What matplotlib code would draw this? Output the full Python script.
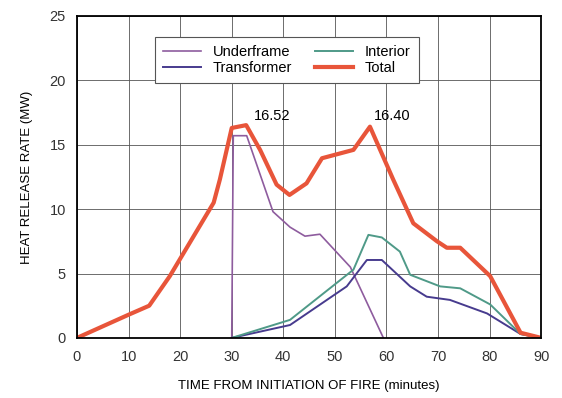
import matplotlib.pyplot as plt

plt.rcParams.update({'font.family': ['Liberation Sans', 'DejaVu Sans'], 'font.size': 10})

# time (minutes) and heat release rate (MW)
total_t = [0, 10, 14, 18, 26.5, 27.7, 30, 32.8, 35.5, 38.7, 41.2, 44.5, 47.5, 53.6, 56.8, 61.3, 65.2, 69.8, 71.7, 74.3, 80.1, 86, 90]
total_v = [0, 1.8, 2.5, 4.8, 10.5, 12.3, 16.3, 16.52, 14.6, 11.9, 11.1, 12.0, 13.95, 14.6, 16.40, 12.3, 8.9, 7.5, 7.0, 7.0, 4.8, 0.4, 0]

under_t = [30, 30.3, 32.9, 38, 41.3, 44.2, 47.1, 53, 59.4]
under_v = [0, 15.7, 15.7, 9.8, 8.6, 7.9, 8.05, 5.5, 0]

inter_t = [30, 41.3, 53.6, 56.5, 59.1, 62.6, 64.6, 70.4, 74.3, 80.1, 86, 90]
inter_v = [0, 1.4, 5.3, 8.0, 7.8, 6.7, 4.9, 4.0, 3.85, 2.6, 0.3, 0]

trans_t = [30, 41.3, 52.3, 56.2, 59.1, 64.6, 67.8, 72.3, 79.5, 86, 90]
trans_v = [0, 1.0, 4.0, 6.05, 6.05, 4.0, 3.2, 2.95, 1.9, 0.3, 0]

fig = plt.figure(figsize=(5.62, 3.98), dpi=100)
ax = fig.add_axes([0.137, 0.151, 0.826, 0.809])

ax.plot(under_t, under_v, color='#8e5c9e', lw=1.2, label='Underframe')
ax.plot(trans_t, trans_v, color='#473b8e', lw=1.4, label='Transformer')
ax.plot(inter_t, inter_v, color='#4f9a88', lw=1.4, label='Interior')
ax.plot(total_t, total_v, color='#e8553a', lw=3, label='Total')

ax.text(34.3, 16.7, '16.52', fontsize=10.5, va='bottom')
ax.text(57.6, 16.7, '16.40', fontsize=10.5, va='bottom')

ax.set_xlim(0, 90)
ax.set_ylim(0, 25)
ax.set_xticks(range(0, 91, 10))
ax.set_yticks(range(0, 26, 5))
ax.tick_params(length=0, labelsize=10.5, colors='#333333')
ax.tick_params(axis='x', pad=9)
ax.tick_params(axis='y', pad=8)
ax.grid(True, color='#555555', lw=0.6)
for s in ax.spines.values():
    s.set_linewidth(1.3)

ax.set_xlabel('TIME FROM INITIATION OF FIRE (minutes)', fontsize=9.5, labelpad=11)
ax.set_ylabel('HEAT RELEASE RATE (MW)', fontsize=9.5, labelpad=12)

leg = ax.legend(ncol=2, loc='upper left', bbox_to_anchor=(0.168, 0.935), frameon=True,
                fancybox=False, edgecolor='#555555', framealpha=1, handlelength=2.6,
                columnspacing=1.6, labelspacing=0.15, borderpad=0.55, borderaxespad=0,
                fontsize=10.5)
leg.get_frame().set_linewidth(0.8)

fig.savefig('out.png', dpi=100)
